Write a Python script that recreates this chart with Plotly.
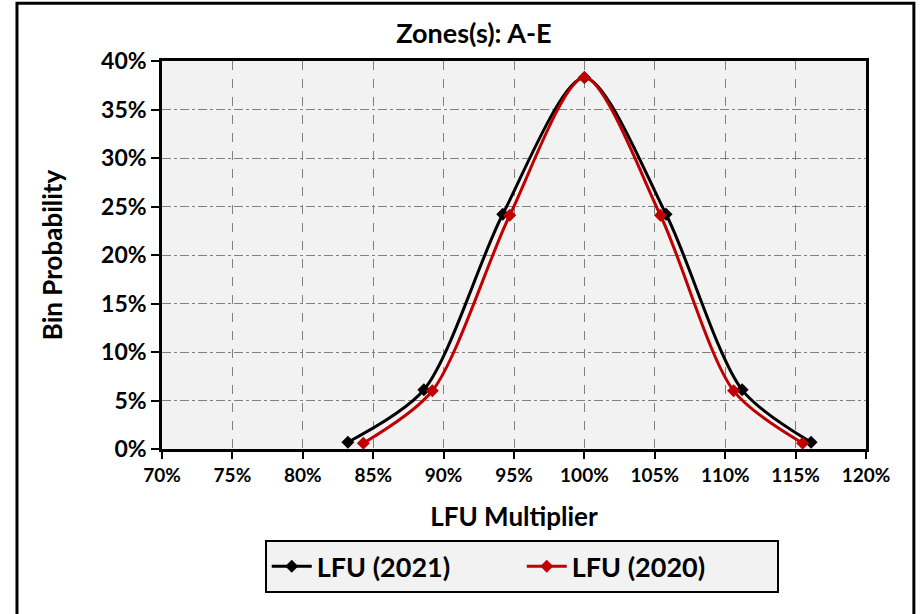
"""
LFU multiplier bin probability chart, zones A-E
"""
import plotly.graph_objects as go

# LFU (2021) - black series
x_2021 = [0.832, 0.886, 0.942, 1.000, 1.058, 1.112, 1.161]
y_2021 = [0.007, 0.061, 0.242, 0.383, 0.242, 0.061, 0.007]

# LFU (2020) - red series
x_2020 = [0.843, 0.892, 0.947, 1.000, 1.054, 1.106, 1.155]
y_2020 = [0.006, 0.060, 0.241, 0.383, 0.241, 0.060, 0.006]

FONT = "Lato"

fig = go.Figure()

fig.add_trace(go.Scatter(
    x=x_2021, y=y_2021,
    mode="lines+markers",
    name="LFU (2021)",
    line=dict(color="#000000", width=3, shape="spline", smoothing=0.8),
    marker=dict(symbol="diamond", size=10, color="#000000"),
))

fig.add_trace(go.Scatter(
    x=x_2020, y=y_2020,
    mode="lines+markers",
    name="LFU (2020)",
    line=dict(color="#c00000", width=3, shape="spline", smoothing=0.8),
    marker=dict(symbol="diamond", size=10, color="#c00000"),
))

fig.update_layout(
    width=922, height=614,
    margin=dict(l=162, r=56, t=61, b=165),
    paper_bgcolor="white",
    plot_bgcolor="#f2f2f2",
    font=dict(family=FONT, color="#000000"),
    title=dict(text="<b>Zones(s): A-E</b>", x=0.514, xref="container",
               y=1 - 34 / 614, yref="container",
               xanchor="center", yanchor="middle", font=dict(size=27)),
    xaxis=dict(
        range=[0.70, 1.20], dtick=0.05, tick0=0.70, tickformat=".0%",
        showgrid=True, gridcolor="#808080", gridwidth=1, griddash="dash",
        showline=True, linecolor="#000000", linewidth=2.5, mirror=True,
        ticks="outside", ticklen=7, tickwidth=2, tickcolor="#000000",
        tickfont=dict(size=19, family=FONT, weight="bold"),
        title=dict(text="<b>LFU Multiplier</b>", font=dict(size=26), standoff=24),
        zeroline=False,
    ),
    yaxis=dict(
        range=[0, 0.40], dtick=0.05, tickformat=".0%",
        showgrid=True, gridcolor="#808080", gridwidth=1, griddash="dashdot",
        showline=True, linecolor="#000000", linewidth=2.5, mirror=True,
        ticks="outside", ticklen=8, tickwidth=2, tickcolor="#000000",
        tickfont=dict(size=23, family=FONT, weight="bold"),
        title=dict(text="<b>Bin Probability</b>", font=dict(size=26), standoff=32),
        zeroline=False,
    ),
    legend=dict(
        orientation="h", x=0.511, xanchor="center", y=-0.235, yanchor="top",
        bgcolor="#f2f2f2", bordercolor="#000000", borderwidth=2,
        font=dict(size=27, family=FONT, weight="bold"),
        itemwidth=40, entrywidth=200,
    ),
    showlegend=True,
)

# outer chart border
fig.add_shape(type="rect", xref="paper", yref="paper",
              x0=-0.206, x1=1.068, y0=-0.5, y1=1.149,
              line=dict(color="#000000", width=3), fillcolor="rgba(0,0,0,0)",
              layer="below")

# drop the default page margin so the figure sits at the window's corner
fig.write_html("out.html", config={"displayModeBar": False},
               post_script="document.body.style.margin='0';")
